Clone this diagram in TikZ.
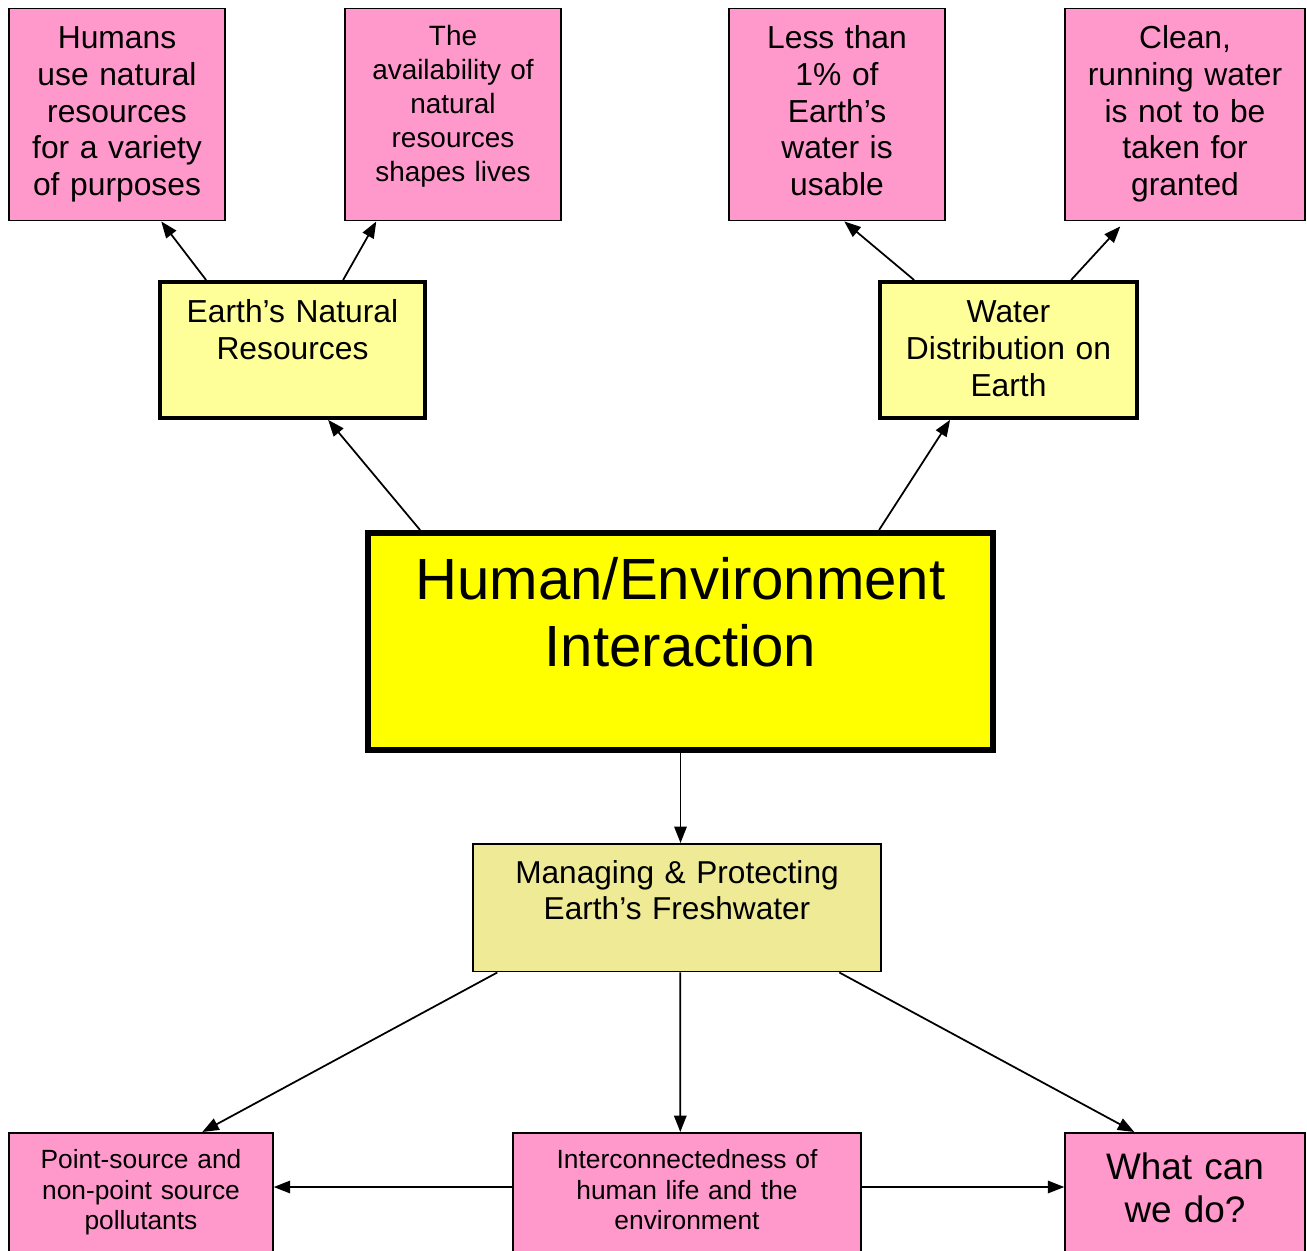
\documentclass[tikz,border=0pt]{standalone}
\usepackage{fontspec}
\setmainfont{Liberation Sans}
\usetikzlibrary{arrows.meta,calc}

\definecolor{leafpink}{RGB}{255,153,204}
\definecolor{branchyellow}{RGB}{255,255,153}
\definecolor{coreyellow}{RGB}{255,255,0}
\definecolor{subkhaki}{RGB}{238,234,150}

\newcommand{\sizeleaf}{\fontsize{18.1}{20.9}\selectfont}
\newcommand{\sizesmall}{\fontsize{15.9}{19.3}\selectfont}
\newcommand{\sizecore}{\fontsize{33.1}{38}\selectfont}
\newcommand{\sizesub}{\fontsize{18}{20.4}\selectfont}
\newcommand{\sizefoot}{\fontsize{15}{17.3}\selectfont}
\newcommand{\sizeask}{\fontsize{21}{24.4}\selectfont}

\tikzstyle{cbox}=[draw, align=center, anchor=north, inner xsep=0.08cm, inner ysep=0pt]
\tikzstyle{leaf}=[cbox, fill=leafpink, line width=0.85pt]
\tikzstyle{branch}=[cbox, fill=branchyellow, line width=2.2pt]
\tikzstyle{core}=[cbox, fill=coreyellow, line width=3.4pt]
\tikzstyle{sub}=[cbox, fill=subkhaki, line width=0.85pt]
\tikzstyle{arr}=[-{Triangle[length=0.33cm,width=0.25cm]}, line width=1pt]

\begin{document}
\begin{tikzpicture}[x=0.02cm, y=-0.02cm]
            \useasboundingbox (0,0) rectangle (1307,1250);
            \clip (0,0) rectangle (1307,1250);
            % top row
            \node[leaf, text width=4.16cm, text height=0.8cm, text depth=3.44cm, font=\sizeleaf] at (117,8) (h1)
                {Humans\\use natural\\resources\\for a variety\\of purposes};
            \node[leaf, text width=4.16cm, text height=0.74cm, text depth=3.5cm, font=\sizesmall] at (453,8) (h2)
                {The\\availability of\\natural\\resources\\shapes lives};
            \node[leaf, text width=4.16cm, text height=0.8cm, text depth=3.44cm, font=\sizeleaf] at (837,8) (w1)
                {Less than\\1\% of\\Earth’s\\water is\\usable};
            \node[leaf, text width=4.64cm, text height=0.8cm, text depth=3.44cm, font=\sizeleaf] at (1185,8) (w2)
                {Clean,\\running water\\is not to be\\taken for\\granted};
            % second row
            \node[branch, text width=5.14cm, text height=0.82cm, text depth=1.9cm, font=\sizeleaf] at (292.5,280) (nat)
                {Earth’s Natural\\Resources};
            \node[branch, text width=4.98cm, text height=0.82cm, text depth=1.9cm, font=\sizeleaf] at (1008.5,280) (wat)
                {Water\\Distribution on\\Earth};
            % centre
            \node[core, text width=12.34cm, text height=1.33cm, text depth=3.01cm, font=\sizecore] at (680.5,530) (main)
                {Human/Environment\\Interaction};
            \node[sub, text width=8cm, text height=0.8cm, text depth=1.76cm, font=\sizesub] at (677,843) (man)
                {Managing \& Protecting\\Earth’s Freshwater};
            % bottom row
            \node[leaf, text width=5.12cm, text height=0.72cm, text depth=1.94cm, font=\sizefoot] at (141,1132) (pnt)
                {Point-source and\\non-point source\\pollutants};
            \node[leaf, text width=6.8cm, text height=0.72cm, text depth=1.94cm, font=\sizefoot] at (687,1132) (inter)
                {Interconnectedness of\\human life and the\\environment};
            \node[leaf, text width=4.64cm, text height=0.94cm, text depth=1.72cm, font=\sizeask] at (1185,1132) (what)
                {What can\\we do?};

            \draw ($(nat.north west)+(48,0)$) edge[arr] ($(h1.south west)+(153,0)$);
            \draw ($(nat.north west)+(185,0)$) edge[arr] ($(h2.south west)+(32,0)$);
            \draw ($(wat.north west)+(36,0)$) edge[arr] ($(w1.south west)+(116,0)$);
            \draw ($(wat.north west)+(193,0)$) edge[arr] ($(w2.south west)+(56,5)$);
            \draw ($(main.north west)+(55,0)$) edge[arr] ($(nat.south west)+(170,0)$);
            \draw ($(main.north west)+(514,0)$) edge[arr] ($(wat.south west)+(72,0)$);
            \draw (main.south) edge[arr] (main.south |- man.north);
            \draw ($(man.south west)+(25,0)$) edge[arr] ($(pnt.north west)+(194,0)$);
            \draw ($(man.south west)+(208,0)$) edge[arr] ($(inter.north west)+(168,0)$);
            \draw ($(man.south west)+(367,0)$) edge[arr] ($(what.north west)+(70,0)$);
            \draw ($(inter.north west)+(0,55)$) edge[arr] ($(pnt.north east)+(0,55)$);
            \draw ($(inter.north east)+(0,55)$) edge[arr] ($(what.north west)+(0,55)$);
        \end{tikzpicture}
\end{document}
